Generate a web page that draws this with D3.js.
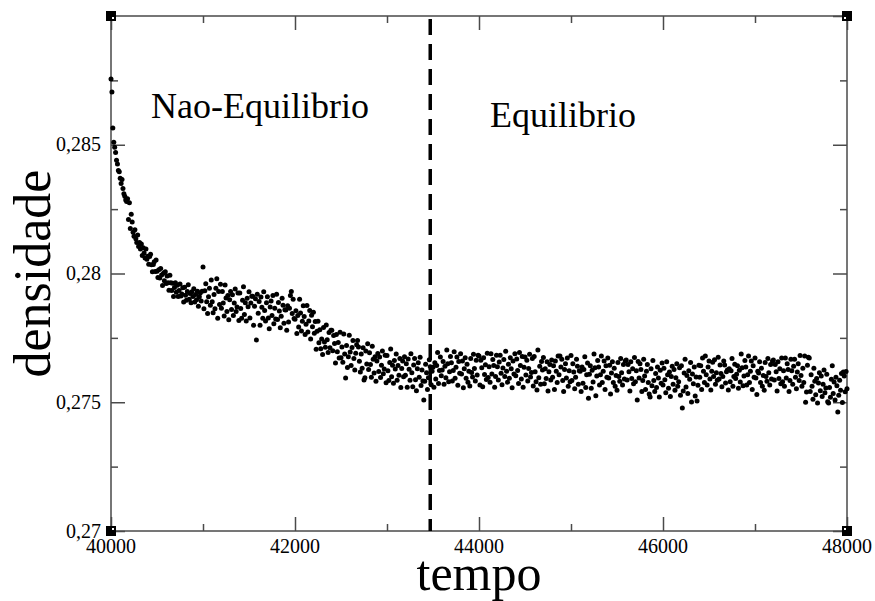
<!DOCTYPE html>
<html>
<head>
<meta charset="utf-8">
<script src="https://cdn.jsdelivr.net/npm/d3@7"></script>
<style>
  html, body { margin: 0; padding: 0; background: #fff; }
  svg text { font-family: "Liberation Serif", "DejaVu Serif", serif; fill: #000; }
</style>
</head>
<body>
<div id="chart"></div>
<script>
// --- data ---------------------------------------
// time axis sampled every 10 steps from 40000 to 48000
var tempoInicio = 40000,
    passo = 10

// densidade x 1e5, one value per sample
var densidade = [
  28755,28705,28565,28510,28490,28470,28440,28425,28400,28395,
  28370,28350,28365,28330,28310,28300,28285,28280,28290,28210,
  28275,28175,28230,28200,28160,28145,28170,28135,28120,28150,
  28105,28120,28095,28115,28070,28100,28080,28060,28095,28055,
  28067,28036,28066,28075,28034,28007,28035,28046,28008,28052,
  28009,27984,28015,27983,28019,27994,27953,28001,27972,28007,
  27961,27990,27964,27935,27993,27964,27934,27962,27911,27946,
  27964,27927,27954,27911,27934,27959,27913,27920,27945,27889,
  27947,27916,27896,27930,27956,27900,27922,27886,27929,27911,
  27941,27889,27918,27898,27931,27873,27910,27924,27893,27931,
  28025,27863,27933,27960,27890,27845,27910,27943,27877,27975,
  27890,27848,27918,27863,27943,27980,27826,27930,27880,27958,
  27865,27930,27885,27835,27955,27905,27852,27915,27820,27898,
  27930,27860,27917,27837,27885,27940,27852,27870,27924,27817,
  27924,27864,27826,27896,27949,27841,27886,27816,27904,27871,
  27929,27827,27885,27912,27912,27799,27873,27902,27742,27919,
  27846,27891,27799,27909,27869,27826,27929,27856,27816,27886,
  27910,27827,27785,27870,27893,27837,27915,27805,27865,27823,
  27919,27821,27887,27854,27789,27834,27904,27877,27807,27859,
  27858,27780,27875,27812,27865,27915,27930,27845,27900,27825,
  27822,27855,27767,27837,27792,27900,27847,27777,27815,27875,
  27833,27763,27803,27876,27773,27816,27856,27746,27838,27793,
  27850,27768,27814,27706,27776,27815,27731,27782,27708,27746,
  27685,27790,27734,27714,27800,27743,27693,27771,27712,27780,
  27780,27700,27759,27728,27652,27763,27696,27732,27672,27772,
  27673,27715,27655,27765,27687,27594,27720,27635,27677,27760,
  27695,27643,27713,27740,27670,27625,27690,27723,27740,27715,
  27659,27617,27687,27632,27712,27586,27595,27699,27649,27727,
  27627,27692,27647,27597,27717,27667,27614,27677,27582,27660,
  27689,27619,27676,27596,27644,27699,27611,27629,27683,27576,
  27682,27622,27584,27654,27707,27599,27644,27574,27662,27629,
  27687,27585,27643,27605,27670,27557,27631,27660,27599,27677,
  27605,27650,27558,27668,27628,27585,27688,27615,27560,27645,
  27670,27587,27545,27630,27653,27597,27675,27565,27625,27583,
  27509,27582,27648,27615,27550,27595,27665,27638,27568,27620,
  27636,27558,27653,27590,27643,27693,27573,27623,27676,27603,
  27625,27658,27570,27640,27595,27703,27650,27580,27618,27678,
  27653,27583,27623,27696,27593,27636,27676,27566,27658,27613,
  27688,27610,27660,27556,27630,27673,27593,27648,27578,27620,
  27563,27670,27616,27598,27686,27631,27583,27663,27606,27683,
  27680,27567,27663,27634,27560,27673,27608,27646,27588,27690,
  27596,27638,27578,27688,27610,27666,27643,27558,27600,27683,
  27638,27586,27656,27683,27613,27568,27633,27666,27600,27698,
  27620,27578,27648,27593,27673,27630,27556,27660,27610,27688,
  27603,27668,27623,27573,27693,27643,27590,27678,27558,27636,
  27676,27606,27663,27583,27631,27686,27598,27616,27670,27563,
  27678,27618,27580,27548,27703,27595,27640,27570,27658,27625,
  27674,27572,27630,27592,27657,27544,27618,27647,27586,27664,
  27597,27642,27550,27660,27620,27577,27680,27607,27680,27637,
  27667,27584,27542,27627,27650,27594,27672,27562,27622,27580,
  27682,27584,27650,27617,27552,27597,27667,27640,27570,27622,
  27620,27542,27637,27574,27627,27677,27557,27607,27652,27516,
  27609,27642,27554,27624,27579,27687,27634,27525,27602,27662,
  27637,27567,27607,27680,27577,27620,27660,27550,27642,27597,
  27672,27594,27644,27532,27614,27657,27577,27632,27562,27604,
  27547,27654,27600,27582,27670,27615,27567,27647,27590,27660,
  27664,27586,27647,27618,27544,27657,27592,27630,27572,27674,
  27580,27622,27509,27658,27594,27650,27627,27542,27584,27667,
  27602,27550,27620,27647,27577,27532,27520,27630,27564,27662,
  27584,27542,27612,27557,27637,27594,27520,27624,27574,27652,
  27567,27632,27587,27537,27657,27607,27554,27617,27522,27600,
  27640,27570,27627,27547,27595,27650,27562,27580,27634,27527,
  27642,27478,27544,27614,27667,27559,27604,27534,27622,27589,
  27654,27501,27610,27572,27637,27524,27598,27505,27566,27644,
  27597,27642,27550,27672,27620,27577,27680,27607,27567,27637,
  27660,27590,27548,27620,27655,27600,27665,27570,27615,27585,
  27675,27590,27645,27612,27560,27600,27660,27645,27575,27618,
  27625,27548,27630,27580,27622,27670,27562,27600,27648,27592,
  27609,27642,27554,27624,27579,27687,27634,27564,27602,27662,
  27637,27567,27607,27680,27577,27620,27660,27550,27642,27597,
  27672,27594,27530,27620,27614,27657,27577,27632,27562,27604,
  27547,27654,27600,27582,27670,27615,27567,27647,27590,27660,
  27664,27586,27647,27618,27544,27657,27592,27630,27572,27672,
  27580,27622,27562,27672,27594,27650,27627,27542,27584,27667,
  27622,27570,27640,27667,27597,27552,27617,27650,27584,27682,
  27604,27562,27632,27577,27680,27500,27540,27644,27675,27672,
  27542,27607,27562,27512,27632,27582,27529,27592,27497,27575,
  27615,27545,27602,27522,27570,27625,27537,27555,27609,27502,
  27497,27557,27519,27589,27642,27534,27579,27509,27597,27564,
  27462,27527,27585,27547,27612,27499,27617,27602,27541,27619,
  27552
]

var xMajor = [40000, 42000, 44000, 46000, 48000]
var xMinor = [41000, 43000, 45000, 47000]
var yMajor = [0.27, 0.275, 0.28, 0.285]
var yMinor = [0.2725, 0.2775, 0.2825, 0.2875]
var yTopo = 0.29

var tempoEquilibrio = 43470

var rotulos = [
  { texto: "Nao-Equilibrio", t: 40435, d: 0.28604 },
  { texto: "Equilibrio",     t: 44120, d: 0.28569 }
]

// --- chart ---------------------------------------
var width = 875,
    height = 601,
    margin = { top: 16, right: 28, bottom: 70, left: 111 },
    innerW = width - margin.left - margin.right,
    innerH = height - margin.top - margin.bottom

var pontos = densidade.map((v, i) => ({ t: tempoInicio + i * passo, d: v / 1e5 }))

var x = d3.scaleLinear().domain([40000, 48000]).range([margin.left, margin.left + innerW])
var y = d3.scaleLinear().domain([0.27, yTopo]).range([margin.top + innerH, margin.top])

var svg = d3.select("#chart").append("svg")
  .attr("width", width)
  .attr("height", height)

svg.append("rect")
  .attr("width", width).attr("height", height)
  .attr("fill", "#fff")

var frameColor = "#4a4a4a"

// ticks (all inward, on four sides)
function tickAxis(axisFn, scale, values, size, translate) {
  var g = svg.append("g")
    .attr("transform", translate)
    .call(axisFn(scale).tickValues(values).tickSize(size).tickFormat(""))
  g.select(".domain").remove()
  g.selectAll(".tick line").attr("stroke", frameColor).attr("stroke-width", 1.5)
  return g
}

var x0 = margin.left, x1 = margin.left + innerW,
    y0 = margin.top + innerH, y1 = margin.top

tickAxis(d3.axisBottom, x, xMajor, -14, `translate(0,${y0})`)
tickAxis(d3.axisBottom, x, xMinor, -7, `translate(0,${y0})`)
tickAxis(d3.axisTop, x, xMajor, -14, `translate(0,${y1})`)
tickAxis(d3.axisTop, x, xMinor, -7, `translate(0,${y1})`)
tickAxis(d3.axisLeft, y, yMajor, -14, `translate(${x0},0)`)
tickAxis(d3.axisLeft, y, yMinor, -7, `translate(${x0},0)`)
tickAxis(d3.axisRight, y, yMajor.concat([yTopo]), -14, `translate(${x1},0)`)
tickAxis(d3.axisRight, y, yMinor, -7, `translate(${x1},0)`)

// frame
svg.append("rect")
  .attr("x", x0).attr("y", y1)
  .attr("width", x1 - x0).attr("height", y0 - y1)
  .attr("fill", "none")
  .attr("stroke", frameColor)
  .attr("stroke-width", 1.5)

// tick labels
svg.append("g")
  .selectAll("text")
  .data(xMajor)
  .enter().append("text")
    .attr("x", d => x(d))
    .attr("y", y0 + 22)
    .attr("text-anchor", "middle")
    .style("font-size", "20px")
    .text(d => d)

svg.append("g")
  .selectAll("text")
  .data(yMajor)
  .enter().append("text")
    .attr("x", x0 - 10)
    .attr("y", d => y(d))
    .attr("dy", "0.33em")
    .attr("text-anchor", "end")
    .style("font-size", "20px")
    .text(d => String(d).replace(".", ","))

// axis titles
svg.append("text")
  .attr("x", (x0 + x1) / 2)
  .attr("y", y0 + 59)
  .attr("text-anchor", "middle")
  .style("font-size", "50px")
  .text("tempo")

svg.append("text")
  .attr("transform", `translate(50,${(y0 + y1) / 2}) rotate(-90)`)
  .attr("text-anchor", "middle")
  .style("font-size", "52px")
  .text("densidade")

// equilibrium marker
svg.append("line")
  .attr("x1", x(tempoEquilibrio)).attr("x2", x(tempoEquilibrio))
  .attr("y1", y1 + 3).attr("y2", y0)
  .attr("stroke", "#000")
  .attr("stroke-width", 3.5)
  .attr("stroke-dasharray", "16,9")

// points
svg.append("g")
  .attr("class", "pontos")
  .selectAll("circle")
  .data(pontos)
  .enter().append("circle")
    .attr("cx", d => x(d.t))
    .attr("cy", d => y(d.d))
    .attr("r", 2.5)
    .attr("fill", "#000")

// region labels
svg.append("g")
  .selectAll("text")
  .data(rotulos)
  .enter().append("text")
    .attr("x", d => x(d.t))
    .attr("y", d => y(d.d))
    .style("font-size", "36px")
    .text(d => d.texto)

// corner squares
var cantos = [[x0, y1, 1, 1], [x1, y1, -1, 1], [x0, y0, 1, -1], [x1, y0, -1, -1]]
svg.append("g")
  .selectAll("rect")
  .data(cantos)
  .enter().append("rect")
    .attr("x", d => d[0] - 5)
    .attr("y", d => d[1] - 5)
    .attr("width", 10)
    .attr("height", 10)
    .attr("fill", "#000")
svg.append("g")
  .selectAll("rect")
  .data(cantos)
  .enter().append("rect")
    .attr("x", d => d[0] + (d[2] > 0 ? 1 : -3))
    .attr("y", d => d[1] + (d[3] > 0 ? 1 : -3))
    .attr("width", 2)
    .attr("height", 2)
    .attr("fill", "#fff")
</script>
</body>
</html>
